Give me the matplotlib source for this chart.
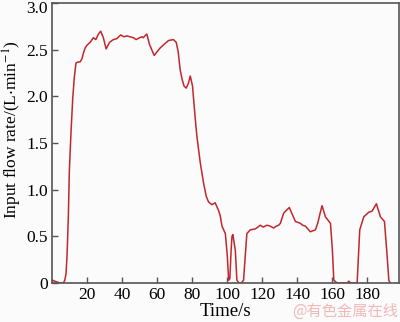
import matplotlib
matplotlib.use('Agg')
import matplotlib.pyplot as plt
from matplotlib.transforms import ScaledTranslation

# time (s) and input flow rate (L/min)
t = [0, 0.5, 1.5, 3, 5, 6.5, 7.3, 8, 8.6, 9.3, 9.9, 10.8, 11.8, 12.7, 13.7, 15, 16, 17,
     18, 18.9, 20, 21.7, 23.6, 25, 26.5, 27.8, 29.3, 30.9, 32.8, 35, 37, 39.2, 41,
     42.7, 44.5, 46.5, 48, 50, 51.2, 52, 54.1, 55.6, 58.3, 60, 61.7, 64, 66.5, 69.3,
     70.9, 72, 73.1, 74.3, 75.4, 76.6, 77.8, 78.9, 80.2, 80.8, 81.8, 82.7, 84.6,
     86.5, 88, 89.3, 91.2, 93.1, 95, 96, 97, 98.9, 100, 100.8, 101.5, 102.2, 102.7,
     103.2, 104.6, 105.5, 106.7, 108, 109.3, 110.3, 111.2, 113.1, 116, 118.9, 120.5,
     122.7, 124.5, 126.5, 128, 129.3, 130.3, 132.2, 135.4, 137, 138.9, 141.7, 143,
     144.6, 147.4, 150.3, 151.6, 153, 154.1, 156, 158.9, 160, 160.8, 162.7, 166,
     168.5, 169.3, 170.5, 174.1, 175.6, 177.9, 180.8, 182.6, 185.1, 187.4, 189.7,
     191, 192.2, 193]
flow = [0.01, 0.03, 0.02, 0.01, 0.0, 0.0, 0.03, 0.1, 0.3, 0.7, 1.2, 1.6, 1.97, 2.2,
        2.36, 2.37, 2.37, 2.4, 2.47, 2.52, 2.55, 2.58, 2.63, 2.61, 2.67, 2.70, 2.63,
        2.51, 2.58, 2.61, 2.62, 2.66, 2.64, 2.65, 2.64, 2.63, 2.61, 2.63, 2.64, 2.63,
        2.67, 2.56, 2.44, 2.48, 2.52, 2.56, 2.60, 2.61, 2.58, 2.48, 2.29, 2.18, 2.11,
        2.09, 2.14, 2.22, 2.11, 1.97, 1.75, 1.57, 1.29, 1.07, 0.93, 0.87, 0.84, 0.86,
        0.78, 0.72, 0.61, 0.53, 0.3, 0.03, 0.05, 0.35, 0.50, 0.52, 0.35, 0.03, 0.0,
        0.0, 0.03, 0.3, 0.53, 0.57, 0.58, 0.62, 0.60, 0.62, 0.61, 0.59, 0.61, 0.62,
        0.64, 0.75, 0.81, 0.74, 0.66, 0.64, 0.62, 0.61, 0.55, 0.57, 0.64, 0.75, 0.83,
        0.71, 0.64, 0.35, 0.03, 0.0, 0.0, 0.0, 0.02, 0.0, 0.0, 0.57, 0.71, 0.76, 0.77,
        0.85, 0.71, 0.66, 0.35, 0.03, 0.0]

xticks = [20, 40, 60, 80, 100, 120, 140, 160, 180]
yticks = [0, 0.5, 1.0, 1.5, 2.0, 2.5, 3.0]
ylabels = ['0', '0.5', '1.0', '1.5', '2.0', '2.5', '3.0']

plt.rcParams['font.family'] = ['Liberation Serif', 'DejaVu Serif']
plt.rcParams['mathtext.fontset'] = 'stix'

fig = plt.figure(figsize=(4, 3.22), dpi=100)
fig.patch.set_facecolor('#fbfbfb')
ax = fig.add_axes([0.13, 0.121, 0.8675, 0.869])
ax.set_facecolor('#fbfbfb')
ax.plot(t, flow, color='#c1272d', lw=1.1)

ax.set_xlim(0, 198)
ax.set_ylim(0, 3.0)
ax.set_xticks(xticks)
ax.set_yticks(yticks)
ax.set_yticklabels(ylabels)
ax.tick_params(direction='in', length=4, width=1, colors='#555555',
               labelcolor='black', labelsize=12.5, pad=3)
for s in ax.spines.values():
    s.set_color('#555555')
    s.set_linewidth(1.2)

# top label sits a bit lower, as in the reference
top = ax.get_yticklabels()[-1]
top.set_transform(top.get_transform() + ScaledTranslation(0, -3 / 72, fig.dpi_scale_trans))

ax.set_xlabel('Time/s', fontsize=13.5, labelpad=0)
ax.set_ylabel('Input flow rate/(L$\\cdot$min$^{-1}$)', fontsize=12.5)
ax.yaxis.set_label_coords(-0.08, 0.55)

fig.text(0.995, 0.008, '@有色金属在线', color='#f2b8b8', fontsize=11,
         ha='right', va='bottom', family=['Noto Sans CJK SC', 'DejaVu Sans'])

fig.savefig('out.png', dpi=100, facecolor=fig.get_facecolor())
